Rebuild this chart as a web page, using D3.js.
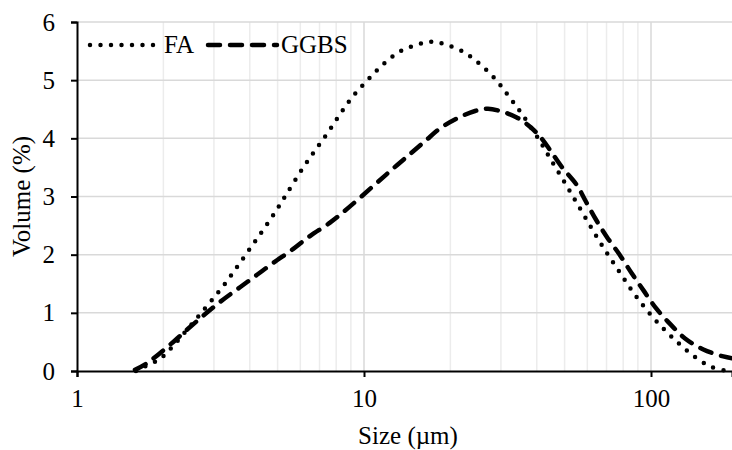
<!DOCTYPE html>
<html>
<head>
<meta charset="utf-8">
<script src="https://cdn.jsdelivr.net/npm/d3@7"></script>
<style>
  body { margin: 0; background: #fff; }
  svg { display: block; }
  svg text { font-family: "Liberation Serif", "Times New Roman", serif; fill: #000; }
</style>
</head>
<body>
<svg id="chart" width="732" height="450"></svg>
<script>
// particle size distribution
var faSize = [1.605, 1.786, 1.935, 2.07, 2.906, 3.245, 3.601, 3.975, 4.40, 4.858, 5.336, 6.145, 6.80, 7.534, 8.295, 9.18,
  10.33, 11.71, 13.42, 15.80, 17.26, 18.80, 22.13, 25.42, 28.9, 32.19, 35.73, 41.15, 45.08, 49.37, 54.05, 59.03,
  64.48, 70.81, 77.98, 85.88, 95.5, 107.5, 121.5, 139.0, 160.6, 184];
var faVolume = [0, 0.115, 0.20, 0.33, 1.18, 1.47, 1.78, 2.08, 2.39, 2.70, 3.02, 3.50, 3.81, 4.12, 4.43, 4.73,
  5.01, 5.28, 5.50, 5.63, 5.66, 5.63, 5.49, 5.27, 5.00, 4.70, 4.40, 3.94, 3.61, 3.29, 2.96, 2.64,
  2.32, 2.00, 1.69, 1.38, 1.08, 0.79, 0.53, 0.28, 0.08, 0];

var ggbsSize = [1.592, 1.749, 2.165, 2.442, 2.83, 3.234, 3.698, 4.227, 4.831, 5.672, 6.483, 7.613, 8.938, 10.77,
  12.49, 14.47, 16.31, 18.40, 21.04, 24.37, 27.04, 29.78, 34.05, 37.88, 41.04, 44.47, 48.85, 55.09, 59.37,
  64.35, 70.09, 77.98, 85.66, 94.02, 104.1, 116.5, 131.4, 152.2, 178.6, 191.5];
var ggbsVolume = [0.02, 0.13, 0.50, 0.73, 1.00, 1.23, 1.44, 1.65, 1.86, 2.10, 2.32, 2.55, 2.83, 3.18,
  3.46, 3.73, 3.95, 4.17, 4.34, 4.47, 4.51, 4.47, 4.36, 4.20, 4.03, 3.80, 3.51, 3.20, 2.91,
  2.60, 2.31, 1.99, 1.68, 1.39, 1.08, 0.81, 0.56, 0.37, 0.25, 0.22];

var yTicks = [0, 1, 2, 3, 4, 5, 6];
var xTicks = [1, 10, 100];
var seriesNames = ['FA', 'GGBS'];

var svg = d3.select('#chart'),
  width = +svg.attr('width'),
  height = +svg.attr('height'),
  margin = { top: 22, right: 0, bottom: 79, left: 77 },
  plotW = width - margin.left - margin.right,
  fontSize = '25px';

// one decade is 287px in the picture, the plot is cut at the right edge
var xMax = Math.pow(10, plotW / 287);
var x = d3.scaleLog().domain([1, xMax]).range([margin.left, width - margin.right]);
var y = d3.scaleLinear().domain([0, 6]).range([height - margin.bottom, margin.top]);

// minor log grid (2..9 in each decade)
var minor = [];
[1, 10, 100].forEach(function (d) {
  for (var k = 2; k <= 9; k++) if (d * k < xMax) minor.push(d * k);
});

var grid = svg.append('g');
grid.selectAll('line.minor').data(minor).enter().append('line')
  .attr('x1', function (d) { return x(d); }).attr('x2', function (d) { return x(d); })
  .attr('y1', y(0)).attr('y2', y(6))
  .attr('stroke', '#ececec').attr('stroke-width', 1.5);
grid.selectAll('line.major').data([10, 100]).enter().append('line')
  .attr('x1', function (d) { return x(d); }).attr('x2', function (d) { return x(d); })
  .attr('y1', y(0)).attr('y2', y(6))
  .attr('stroke', '#d9d9d9').attr('stroke-width', 1.5);
grid.selectAll('line.h').data(yTicks.slice(1)).enter().append('line')
  .attr('x1', margin.left).attr('x2', width)
  .attr('y1', function (d) { return y(d); }).attr('y2', function (d) { return y(d); })
  .attr('stroke', '#d9d9d9').attr('stroke-width', 1.5);

// axes
var xAxis = d3.axisBottom(x).tickValues(xTicks).tickFormat(d3.format('d')).tickSize(6);
var yAxis = d3.axisLeft(y).tickValues(yTicks).tickFormat(d3.format('d')).tickSize(6).tickPadding(16);

var gx = svg.append('g').attr('transform', 'translate(0,' + y(0) + ')').call(xAxis);
var gy = svg.append('g').attr('transform', 'translate(' + margin.left + ',0)').call(yAxis);
[gx, gy].forEach(function (g) {
  g.attr('font-family', null).attr('font-size', null);
  g.select('.domain').attr('stroke', '#000').attr('stroke-width', 2);
  g.selectAll('.tick line').attr('stroke', '#000').attr('stroke-width', 2);
  g.selectAll('.tick text').style('font-size', fontSize);
});
gx.selectAll('.tick text').attr('y', 36).attr('dy', 0);

// curves
var line = d3.line()
  .x(function (d) { return x(d[0]); })
  .y(function (d) { return y(d[1]); })
  .curve(d3.curveCatmullRom);

var faData = d3.zip(faSize, faVolume);
var ggbsData = d3.zip(ggbsSize, ggbsVolume);

var dotted = { dash: '0 10.5', cap: 'round' },
  dashed = { dash: '12 10', cap: 'round' };

svg.append('path').datum(faData)
  .attr('d', line).attr('fill', 'none').attr('stroke', '#000')
  .attr('stroke-width', 4.5).attr('stroke-linecap', dotted.cap)
  .attr('stroke-dasharray', dotted.dash);

svg.append('path').datum(ggbsData)
  .attr('d', line).attr('fill', 'none').attr('stroke', '#000')
  .attr('stroke-width', 4.5).attr('stroke-linecap', dashed.cap)
  .attr('stroke-dasharray', dashed.dash);

// legend
var legend = svg.append('g').attr('transform', 'translate(0,45)');
[[90, 157, 164, dotted], [208, 277, 281, dashed]].forEach(function (l, i) {
  legend.append('line')
    .attr('x1', l[0]).attr('x2', l[1]).attr('y1', 0).attr('y2', 0)
    .attr('stroke', '#000').attr('stroke-width', 4.5)
    .attr('stroke-linecap', l[3].cap).attr('stroke-dasharray', l[3].dash);
  legend.append('text')
    .attr('x', l[2]).attr('y', 8)
    .style('font-size', fontSize)
    .text(seriesNames[i]);
});

// axis titles
svg.append('text')
  .attr('x', 408).attr('y', 444)
  .attr('text-anchor', 'middle')
  .style('font-size', fontSize)
  .text('Size (\u00b5m)');

svg.append('text')
  .attr('transform', 'translate(30,' + y(3) + ') rotate(-90)')
  .attr('text-anchor', 'middle')
  .style('font-size', fontSize)
  .text('Volume (%)');
</script>
</body>
</html>
